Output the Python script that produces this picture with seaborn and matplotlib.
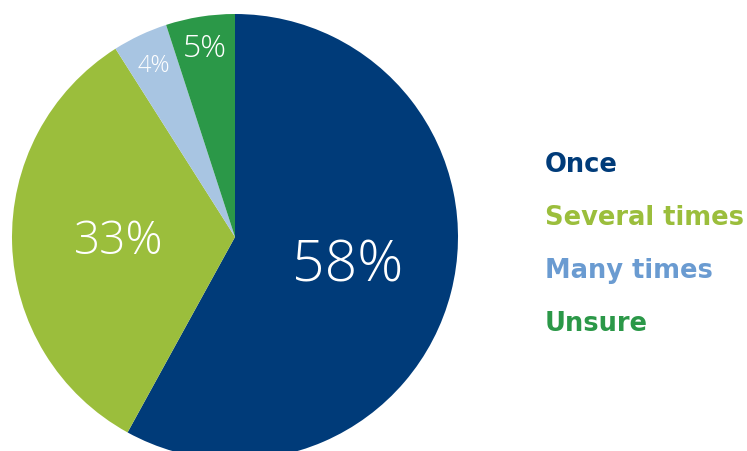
import numpy as np
import matplotlib
matplotlib.use("Agg")
import matplotlib.pyplot as plt
import seaborn as sns

# data
categories = ["Once", "Several times", "Many times", "Unsure"]
shares = [58, 33, 4, 5]
wedge_colors = ["#003B79", "#9BBE3C", "#A8C5E2", "#2B9848"]
legend_colors = ["#003B79", "#9BBE3C", "#6A9BD1", "#2B9848"]

sns.set_theme(style="white")
plt.rcParams["font.family"] = ["DejaVu Sans"]

fig = plt.figure(figsize=(7.47, 4.52), dpi=100)
# pie centred at (235, 238) px, radius 223 px, cut off at the bottom
ax = fig.add_axes([12 / 747, (452 - 461) / 452, 446 / 747, 446 / 452])
wedges, _ = ax.pie(shares, colors=wedge_colors, startangle=90, counterclock=False,
                   radius=1, wedgeprops=dict(linewidth=0))
ax.set_xlim(-1, 1)
ax.set_ylim(-1, 1)
ax.set_aspect("equal")
ax.axis("off")

# percentage labels inside the slices
lab_dist = [0.52, 0.52, 0.85, 0.86]
lab_size = [41, 33, 17, 23]
for w, v, d, s in zip(wedges, shares, lab_dist, lab_size):
    ang = np.deg2rad((w.theta1 + w.theta2) / 2)
    ax.text(d * np.cos(ang), d * np.sin(ang), f"{v}%", color="white", fontsize=s,
            family=["Open Sans", "DejaVu Sans"], fontweight=300,
            ha="center", va="center")

# coloured text legend
for i, (name, c) in enumerate(zip(categories, legend_colors)):
    fig.text(545 / 747, 1 - (165 + 53 * i) / 452, name, color=c, fontsize=18.5,
             fontweight="bold", ha="left", va="center")

fig.savefig("out.png", dpi=100)
